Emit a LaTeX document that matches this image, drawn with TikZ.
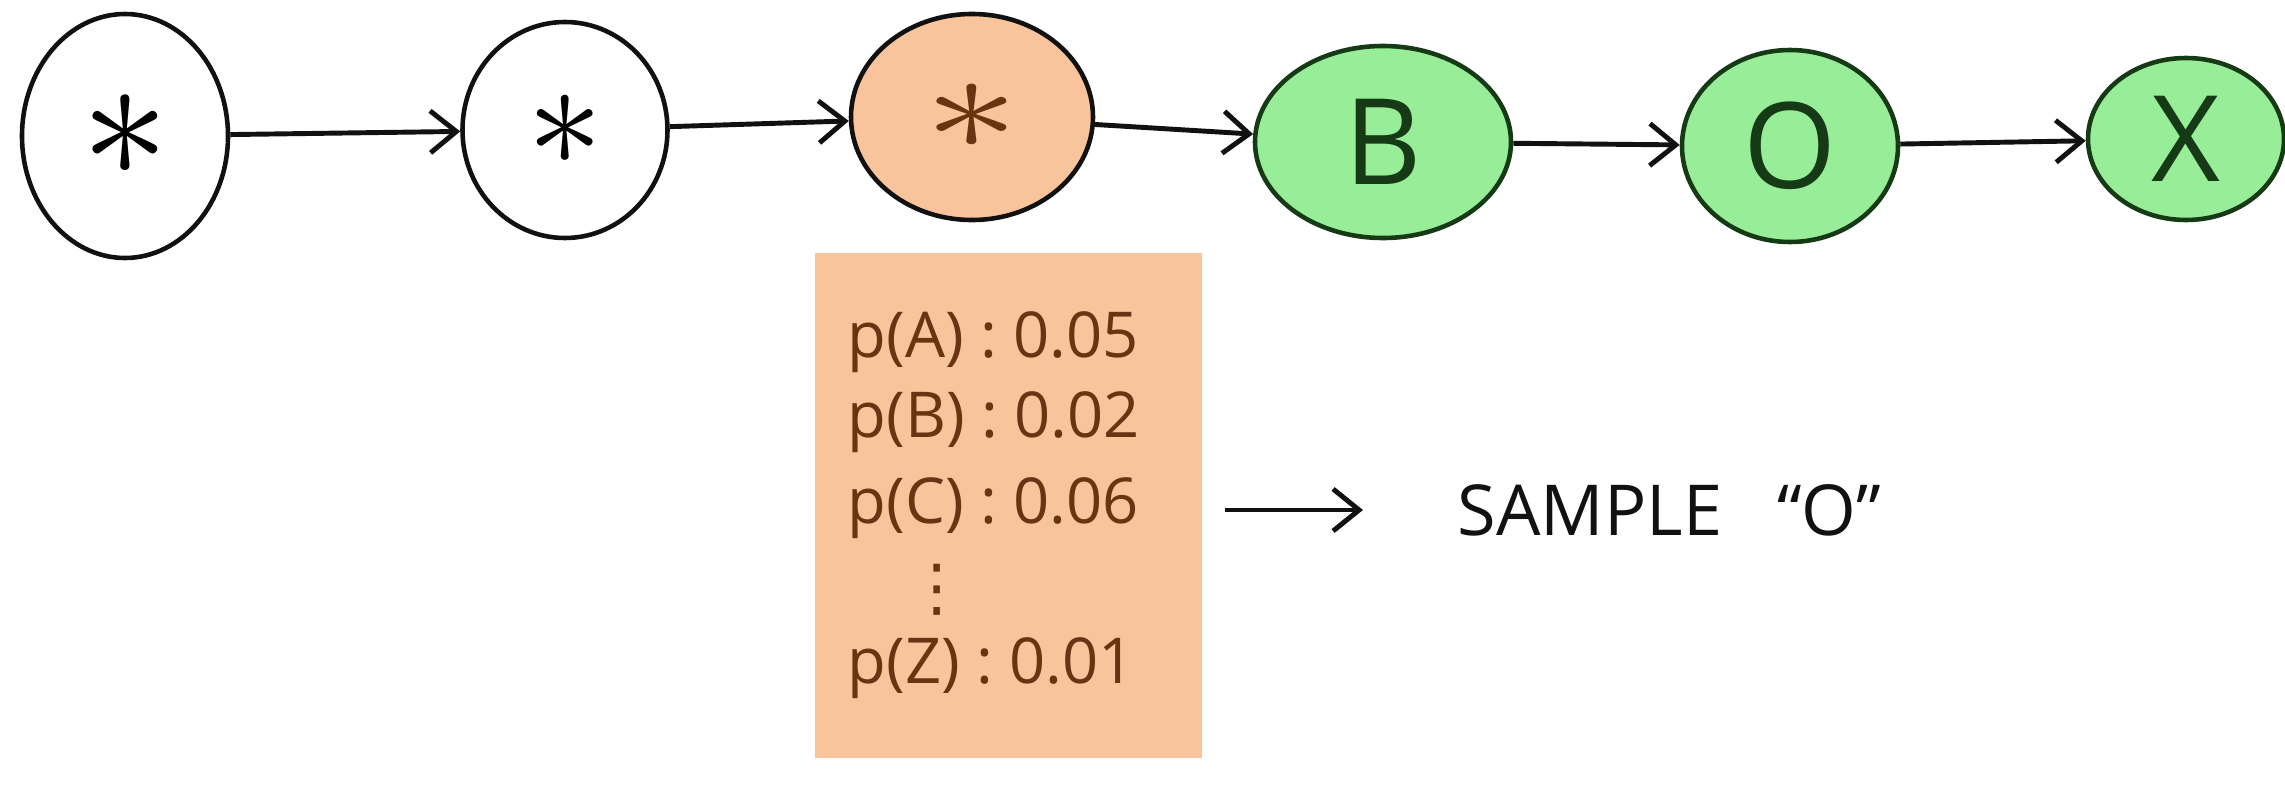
\documentclass[tikz,border=0pt]{standalone}
\usepackage{fontspec}
\setmainfont{Open Sans}
\newfontfamily\symfont{DejaVu Sans}
\usetikzlibrary{shapes.geometric,arrows.meta}
\definecolor{peach}{HTML}{F9C39B}
\definecolor{mint}{HTML}{98EE98}
\definecolor{ink}{HTML}{111111}
\definecolor{brownink}{HTML}{6A3412}
\definecolor{greenink}{HTML}{163A16}
\tikzset{
 state/.style={ellipse, draw=ink, line width=1.3pt, inner sep=0pt},
 whitestate/.style={state, fill=white},
 peachstate/.style={state, fill=peach},
 greenstate/.style={state, fill=mint, draw=greenink, text=greenink, font=\fontsize{34}{34}\selectfont},
 link/.style={draw=ink, line width=1.4pt, -{Straight Barb[length=2.6mm,width=4.2mm,line width=1.4pt]}},
 prob/.style={anchor=base west, text=brownink, font=\fontsize{18}{18}\selectfont, inner sep=0pt},
 probbox/.style={rectangle, fill=peach, inner sep=0pt},
 plain/.style={inner sep=0pt, text=ink},
}
\begin{document}
\begin{tikzpicture}
\useasboundingbox (0,0) rectangle (22.85,-7.88);
% chain of states
\node[whitestate, minimum width=2.06cm, minimum height=2.44cm] (n1) at (1.25,-1.36) {\scalebox{5}{$\ast$}};
\node[whitestate, minimum width=2.05cm, minimum height=2.16cm] (n2) at (5.65,-1.30) {\scalebox{4.3}{$\ast$}};
\node[peachstate, minimum width=2.42cm, minimum height=2.06cm] (n3) at (9.72,-1.17) {\textcolor{brownink}{\scalebox{5.4}[4]{$\ast$}}};
\node[greenstate, minimum width=2.56cm, minimum height=1.92cm] (nB) at (13.83,-1.42) {B};
\node[greenstate, minimum width=2.16cm, minimum height=1.92cm] (nO) at (17.90,-1.46) {O};
\node[greenstate, minimum width=1.96cm, minimum height=1.62cm] (nX) at (21.86,-1.39) {X};
\draw[link] (n1) -- (n2);
\draw[link] (n2) -- (n3);
\draw[link] (n3) -- (nB);
\draw[link] (nB) -- (nO);
\draw[link] (nO) -- (nX);
% probability box
\node[probbox, minimum width=3.87cm, minimum height=5.05cm] (probs) at (10.085,-5.055) {};
\node[prob] (pa) at (8.47,-3.57) {p(A) : 0.05};
\node[prob] (pb) at (8.47,-4.37) {p(B) : 0.02};
\node[prob] (pc) at (8.47,-5.23) {p(C) : 0.06};
\node[text=brownink, inner sep=0pt, font=\symfont\fontsize{18}{18}\selectfont] (pdots) at (9.37,-5.90) {⋮};
\node[prob] (pz) at (8.47,-6.83) {p(Z) : 0.01};
% sample
\node[plain, anchor=west, font=\fontsize{20}{20}\selectfont] (sample) at (14.57,-5.10) {SAMPLE\hspace{0.55cm}“O”};
\draw[link, shorten <=0.22cm, shorten >=0.94cm] (probs.east |- sample.west) -- (sample.west);
\end{tikzpicture}
\end{document}
